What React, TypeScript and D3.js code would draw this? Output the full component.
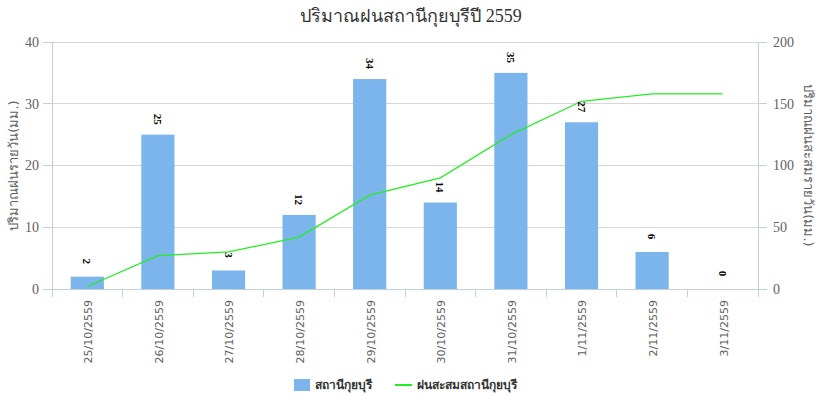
import React from "react";
import * as d3 from "d3";

const categories = ["25/10/2559","26/10/2559","27/10/2559","28/10/2559","29/10/2559","30/10/2559","31/10/2559","1/11/2559","2/11/2559","3/11/2559"];
const dailyRain = [2, 25, 3, 12, 34, 14, 35, 27, 6, 0];
const cumulativeRain = [2, 27, 30, 42, 76, 90, 125, 152, 158, 158];
const leftTicks = [0, 10, 20, 30, 40];
const rightTicks = [0, 50, 100, 150, 200];
const titleThai = "ปริมาณฝนสถานีกุยบุรีปี";
const titleYear = "2559";
const leftTitle = "ปริมาณฝนรายวัน(มม.)";
const rightTitle = "ปริมาณฝนสะสมรายวัน(มม.)";
const seriesNames = ["สถานีกุยบุรี", "ฝนสะสมสถานีกุยบุรี"];

const W = 822, H = 395;
const L = 52, R = 758, T = 42, B = 289;
const serif = "'Times New Roman', 'Liberation Serif', serif";
const sans = "Tahoma, 'DejaVu Sans', 'Noto Sans', sans-serif";
const barColor = "#7cb5ec";
const lineColor = "#22ee22";
const axisColor = "#C0D0E0";
const gridColor = "#D8D8D8";
const labelColor = "#606060";

export default function App() {
  const x = d3.scaleBand<string>().domain(categories).range([L, R]).padding(0);
  const yL = d3.scaleLinear().domain([0, 40]).range([B, T]);
  const yR = d3.scaleLinear().domain([0, 200]).range([B, T]);
  const bw = x.bandwidth() * 0.47;
  const cx = (c: string) => (x(c) as number) + x.bandwidth() / 2;
  const line = d3.line<number>().x((_, i) => cx(categories[i])).y((d) => yR(d));
  const boundaries = categories.map((c) => x(c) as number).concat([R]);

  return (
    <svg width={W} height={H} style={{ position: "absolute", left: 0, top: 0, background: "#fff" }}>
      <rect x={0} y={0} width={W} height={H} fill="#fff" />
      <text x={W / 2} y={22} textAnchor="middle" fontSize={18} fill="#333">
        <tspan fontFamily={sans}>{titleThai}</tspan>
        <tspan fontFamily={serif}>{" " + titleYear}</tspan>
      </text>
      {leftTicks.map((t) => (
        <line key={"g" + t} x1={L} x2={R} y1={yL(t)} y2={yL(t)} stroke={t === 0 ? axisColor : gridColor} strokeWidth={1} shapeRendering="crispEdges" />
      ))}
      <line x1={L} x2={L} y1={T} y2={B + 8} stroke={axisColor} shapeRendering="crispEdges" />
      <line x1={R} x2={R} y1={T} y2={B + 8} stroke={axisColor} shapeRendering="crispEdges" />
      {boundaries.map((b, i) => (
        <line key={"xt" + i} x1={b} x2={b} y1={B} y2={B + 8} stroke={axisColor} shapeRendering="crispEdges" />
      ))}
      {leftTicks.map((t) => (
        <g key={"lt" + t}>
          <line x1={L - 9} x2={L} y1={yL(t)} y2={yL(t)} stroke={axisColor} shapeRendering="crispEdges" />
          <text x={L - 13} y={yL(t)} dy="0.35em" textAnchor="end" fontFamily={serif} fontSize={14} fill={labelColor}>{t}</text>
        </g>
      ))}
      {rightTicks.map((t) => (
        <g key={"rt" + t}>
          <line x1={R} x2={R + 9} y1={yR(t)} y2={yR(t)} stroke={axisColor} shapeRendering="crispEdges" />
          <text x={R + 15} y={yR(t)} dy="0.35em" textAnchor="start" fontFamily={serif} fontSize={14} fill={labelColor}>{t}</text>
        </g>
      ))}
      <text transform={`translate(13,${(T + B) / 2}) rotate(-90)`} textAnchor="middle" dy="0.35em" fontFamily={sans} fontSize={13} fill={labelColor}>{leftTitle}</text>
      <text transform={`translate(809,${(T + B) / 2}) rotate(90)`} textAnchor="middle" dy="0.35em" fontFamily={sans} fontSize={13} fill={labelColor}>{rightTitle}</text>
      {categories.map((c, i) => (
        <rect key={"b" + i} x={cx(c) - bw / 2} y={yL(dailyRain[i])} width={bw} height={B - yL(dailyRain[i])} fill={barColor} />
      ))}
      <path d={line(cumulativeRain) || ""} fill="none" stroke={lineColor} strokeWidth={1.2} />
      {categories.map((c, i) => (
        <text key={"dl" + i} transform={`translate(${cx(c)},${yL(dailyRain[i]) - 15.5}) rotate(90)`} textAnchor="middle" dy="0.35em" fontFamily={serif} fontWeight="bold" fontSize={11} fill="#000">{dailyRain[i]}</text>
      ))}
      {categories.map((c, i) => (
        <text key={"xl" + i} transform={`translate(${cx(c) + 1},${B + 11}) rotate(-90)`} textAnchor="end" dy="0.35em" fontFamily={sans} fontSize={11} fill={labelColor}>{c}</text>
      ))}
      <rect x={294} y={379} width={16} height={12} fill={barColor} />
      <text x={315} y={385} dy="0.35em" fontFamily={sans} fontSize={12} fontWeight="bold" fill="#333">{seriesNames[0]}</text>
      <line x1={395} x2={412} y1={385} y2={385} stroke={lineColor} strokeWidth={2} />
      <text x={417} y={385} dy="0.35em" fontFamily={sans} fontSize={12} fontWeight="bold" fill="#333">{seriesNames[1]}</text>
    </svg>
  );
}
